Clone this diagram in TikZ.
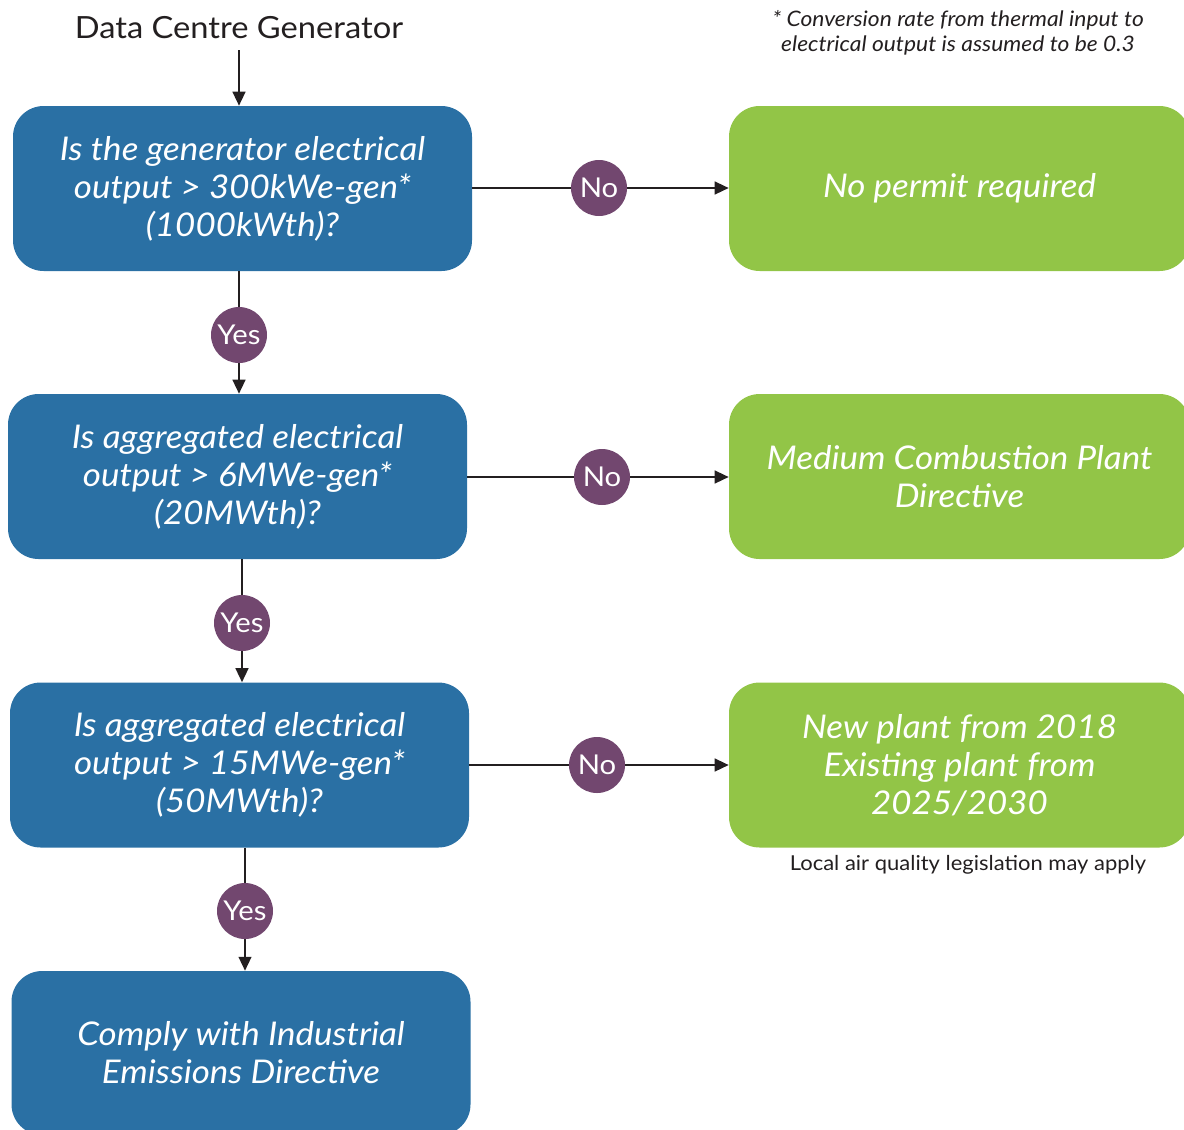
\documentclass[tikz,border=0pt]{standalone}
\usepackage{fontspec}
\setmainfont{Lato}[FakeStretch=1.07]
\usetikzlibrary{arrows.meta}
\definecolor{boxblue}{HTML}{2A70A4}
\definecolor{boxgreen}{HTML}{92C547}
\definecolor{circpurple}{HTML}{72476F}
\definecolor{ink}{HTML}{231F20}
\tikzset{
  bluebox/.style={fill=boxblue, rounded corners=23pt, minimum width=459*0.75pt, minimum height=165*0.75pt,
    inner sep=0pt, text=white, align=center, font=\fontsize{24.5}{28.5}\selectfont\itshape},
  greenbox/.style={fill=boxgreen, rounded corners=23pt, minimum width=461*0.75pt, minimum height=165*0.75pt,
    inner sep=0pt, text=white, align=center, font=\fontsize{24.5}{28.5}\selectfont\itshape},
  decision/.style={circle, fill=circpurple, minimum size=56*0.75pt, inner sep=0pt, text=white,
    font=\fontsize{20.5}{20.5}\selectfont},
  link/.style={draw=ink, line width=1.7pt},
  linkarrow/.style={link, -{Triangle[length=10.5pt,width=9.5pt]}},
}
\begin{document}
\begin{tikzpicture}[x=0.75pt,y=-0.75pt]
\useasboundingbox (0,0) rectangle (1184,1129);
% boxes
\node[bluebox] (q1) at (242.5,188.5) {Is the generator electrical\\output > 300kWe-gen*\\(1000kWth)?};
\node[bluebox] (q2) at (237.5,476.5) {Is aggregated electrical\\output > 6MWe-gen*\\(20MWth)?};
\node[bluebox] (q3) at (239.5,765) {Is aggregated electrical\\output > 15MWe-gen*\\(50MWth)?};
\node[bluebox, minimum height=164*0.75pt] (ied) at (241,1053) {Comply with Industrial\\Emissions Directive};
\node[greenbox] (np) at (959.5,188.5) {No permit required};
\node[greenbox] (mcp) at (959.5,476.5) {Medium Combustion Plant\\Directive};
\node[greenbox] (newp) at (959.5,765) {New plant from 2018\\Existing plant from\\2025/2030};
% texts
\node[text=ink, font=\fontsize{22.9}{27}\selectfont] (title) at (239,28) {Data Centre Generator};
\node[text=ink, align=center, font=\fontsize{16}{19}\selectfont\itshape] (note) at (958,33) {* Conversion rate from thermal input to\\electrical output is assumed to be 0.3};
\node[text=ink, font=\fontsize{15.4}{18}\selectfont] (local) at (968,865) {Local air quality legislation may apply};
% connector anchors
\coordinate (c0) at (239,50);
\coordinate (y1) at (239,335);
\coordinate (y2) at (242,623);
\coordinate (y3) at (245,911);
\coordinate (n1) at (599,188);
\coordinate (n2) at (602,477);
\coordinate (n3) at (597,765);
% connectors
\draw[linkarrow] (c0) -- (q1.north -| c0);
\draw[linkarrow] (q1.south -| y1) -- (q2.north -| y1);
\draw[linkarrow] (q2.south -| y2) -- (q3.north -| y2);
\draw[linkarrow] (q3.south -| y3) -- (ied.north -| y3);
\draw[linkarrow] (q1.east |- n1) -- (np.west |- n1);
\draw[linkarrow] (q2.east |- n2) -- (mcp.west |- n2);
\draw[linkarrow] (q3.east |- n3) -- (newp.west |- n3);
% decision circles
\node[decision] (yes1) at (y1) {Yes};
\node[decision] (yes2) at (y2) {Yes};
\node[decision] (yes3) at (y3) {Yes};
\node[decision] (no1) at (n1) {No};
\node[decision] (no2) at (n2) {No};
\node[decision] (no3) at (n3) {No};
\end{tikzpicture}
\end{document}
